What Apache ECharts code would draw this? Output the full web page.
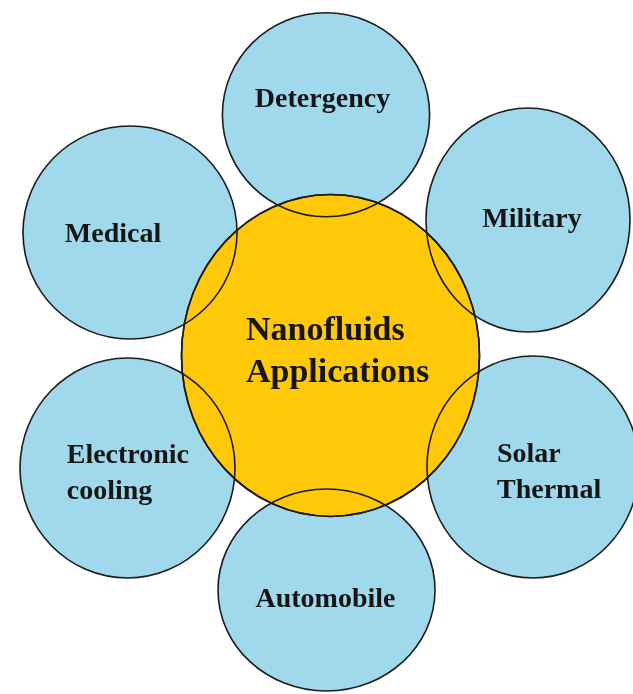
<!DOCTYPE html>
<html><head><meta charset="utf-8">
<script src="https://cdn.jsdelivr.net/npm/echarts@6/dist/echarts.min.js"></script>
<style>html,body{margin:0;padding:0;background:#fff}#c{width:633px;height:694px}</style>
</head><body><div id="c"></div>
<script>
// Diagram nodes (in picture units, 0..633 x 0..694)
const labels  = ['Detergency', 'Medical', 'Military', 'Electronic\ncooling', 'Solar\nThermal', 'Automobile', 'Nanofluids\nApplications'];
const centerX = [326, 130, 528, 127.5, 533, 326.5, 330.5];
const centerY = [114.7, 232.5, 220, 468, 467, 590, 355.5];
const radiusX = [103.6, 107, 102, 107.5, 106, 108.5, 149];
const radiusY = [102, 106.5, 112, 110, 111, 101, 161];

// layout / style (not data)
const labelLayout = [
  {dx: -3.5, dy: -14.7, align: 'center'},
  {dx: -17, dy: 2.5, align: 'center'},
  {dx: 4, dy: 0, align: 'center'},
  {dx: -60.8, dy: 5.7, align: 'left'},
  {dx: -36, dy: 6, align: 'left'},
  {dx: -1, dy: 10, align: 'center'},
  {dx: -84.5, dy: -3.2, align: 'left'}
];
const BLUE = '#A0D9EC', ORANGE = '#FFC90A', STROKE = '#1c1c1c';

const data = labels.map((l, i) => [centerX[i], centerY[i], radiusX[i], radiusY[i], i]);

function ellipseEl(api, fill, stroke) {
  const c = api.coord([api.value(0), api.value(1)]);
  const s = api.size([api.value(2), api.value(3)]);
  return {
    type: 'ellipse',
    shape: {cx: c[0], cy: c[1], rx: s[0], ry: s[1]},
    style: {fill: fill, stroke: stroke, lineWidth: 1.6}
  };
}

const chart = echarts.init(document.getElementById('c'), null, {renderer: 'canvas'});
chart.setOption({
  animation: false,
  backgroundColor: '#ffffff',
  grid: {left: 0, right: 0, top: 0, bottom: 0},
  xAxis: {type: 'value', min: 0, max: 633, show: false},
  yAxis: {type: 'value', min: 0, max: 694, inverse: true, show: false},
  series: [
    {
      type: 'custom', z: 1, silent: true,
      data: data,
      renderItem: function (params, api) {
        const i = api.value(4);
        return ellipseEl(api, i === 6 ? ORANGE : BLUE, i === 6 ? STROKE : 'none');
      }
    },
    {
      type: 'custom', z: 2, silent: true,
      data: data,
      renderItem: function (params, api) {
        const i = api.value(4);
        const c = api.coord([api.value(0), api.value(1)]);
        const L = labelLayout[i];
        const big = i === 6;
        return {
          type: 'group',
          children: [
            ellipseEl(api, 'none', STROKE),
            {
              type: 'text',
              style: {
                text: labels[i],
                x: c[0] + L.dx,
                y: c[1] + L.dy,
                align: L.align,
                verticalAlign: 'middle',
                fill: '#161616',
                font: 'bold ' + (big ? 34 : 28) + 'px "Liberation Serif", "DejaVu Serif", serif',
                lineHeight: big ? 41.5 : 36
              }
            }
          ]
        };
      }
    }
  ]
});
</script></body></html>
